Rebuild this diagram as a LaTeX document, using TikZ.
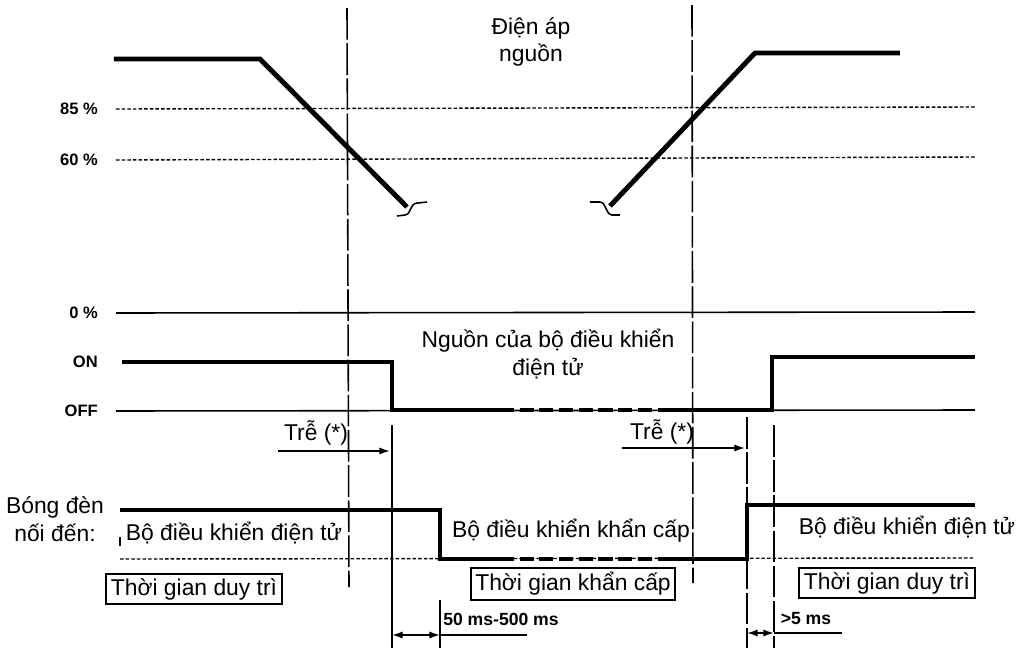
\documentclass[tikz,border=0pt]{standalone}
\usepackage{fontspec}
\setmainfont{Liberation Sans}
\usetikzlibrary{arrows.meta, positioning}

\begin{document}
\begin{tikzpicture}[
    x=0.01cm, y=-0.01cm,
    font=\fontsize{6.5}{7.8}\selectfont,
    signal/.style={line width=1.4pt},
    gapline/.style={line width=1.4pt, dash pattern=on 4pt off 1.6pt},
    level/.style={line width=0.45pt},
    dotline/.style={line width=0.4pt, dash pattern=on 1pt off 0.6pt},
    marker/.style={line width=0.45pt, dash pattern=on 9pt off 1pt},
    axislabel/.style={anchor=east, inner sep=1pt, font=\fontsize{4.7}{5}\selectfont\bfseries},
    timing/.style={inner sep=1pt, font=\fontsize{5}{6}\selectfont\bfseries},
    caption/.style={align=center, inner sep=1pt},
    period/.style={draw, line width=0.5pt, inner sep=1.3pt},
    span/.style={line width=0.45pt, {Latex[length=3pt,width=2pt]}-{Latex[length=3pt,width=2pt]}}
]
\useasboundingbox (0,0) rectangle (1026,648);

% level labels
\node[axislabel] (p85) at (102,109) {85 \%};
\node[axislabel] (p60) at (102,160) {60 \%};
\node[axislabel] (p0) at (102,313) {0 \%};
\node[axislabel] (on) at (102,362) {ON};
\node[axislabel] (off) at (102,411) {OFF};

\coordinate (p85e) at (975,107);
\coordinate (p60e) at (975,157);
\coordinate (p0e) at (975,312);
\coordinate (offe) at (975,410);

\draw[dotline] (p85.east) ++(14,0) -- (p85e);
\draw[dotline] (p60.east) ++(14,0) -- (p60e);
\draw[level] (p0.east) ++(14,0) -- (p0e);
\draw[level] (off.east) ++(14,0) -- (offe);

% time markers
\draw[marker] (347,8) -- (349,587);
\draw[marker] (692,5) -- (693,583);
\draw[level] (392,425) -- (392,648);
\draw[marker] (747,417) -- (747,648);
\draw[marker] (774,425) -- (774,648);

% supply voltage
\node[caption] (supply) at (531,42) {Điện áp\\nguồn};
\draw[signal] (114,59) -- (260,59) -- (407,207);
\draw[level] (397,216) -- (405,215) .. controls (412,214) and (409,203) .. (418,203) -- (427,202);
\draw[level] (590,202) -- (600,202) .. controls (607,203) and (605,214) .. (612,215) -- (620,215);
\draw[signal] (610,206) -- (755,53) -- (900,53);

% ECG power
\node[caption] (ctrl) at (548,354) {Nguồn của bộ điều khiển\\điện tử};
\draw[signal] (122,362) -- (392,362) -- (392,410) -- (500,410);
\draw[gapline] (500,410) -- (662,410);
\draw[signal] (662,410) -- (772,410) -- (772,357) -- (975,357);

% delays
\node[caption] (delayL) at (316,433) {Trễ (*)};
\node[caption] (delayR) at (662,432) {Trễ (*)};
\draw[level, -{Latex[length=3pt,width=2pt]}] (278,451) -- (390,451);
\draw[level, -{Latex[length=3pt,width=2pt]}] (622,448) -- (745,448);

% lamp
\node[caption] (lamp) at (55,519) {Bóng đèn\\nối đến:};
\draw[dotline] (120,559) -- (975,558);
\draw[signal] (120,510) -- (440,510) -- (440,559) -- (500,559);
\draw[gapline] (500,559) -- (662,559);
\draw[signal] (662,559) -- (747,559) -- (747,505) -- (975,505);
\draw[line width=0.8pt] (120,537) -- (120,546);

\node[caption] (ecgL) at (234,533) {Bộ điều khiển điện tử};
\node[caption] (ecgM) at (571,531) {Bộ điều khiển khẩn cấp};
\node[caption] (ecgR) at (907,527) {Bộ điều khiển điện tử};

\node[period] (holdL) at (194,589) {Thời gian duy trì};
\node[period] (emerg) at (573,584) {Thời gian khẩn cấp};
\node[period] (holdR) at (887,583) {Thời gian duy trì};

% durations
\node[timing] (t50) at (501,619) {50 ms-500 ms};
\node[timing] (t5) at (806,619) {>5 ms};
\draw[level] (440,600) -- (440,648);
\draw[span] (392,635) -- (440,635);
\draw[level] (440,635) -- (527,635);
\draw[span] (747,633) -- (774,633);
\draw[level] (774,633) -- (842,633);

\end{tikzpicture}
\end{document}
